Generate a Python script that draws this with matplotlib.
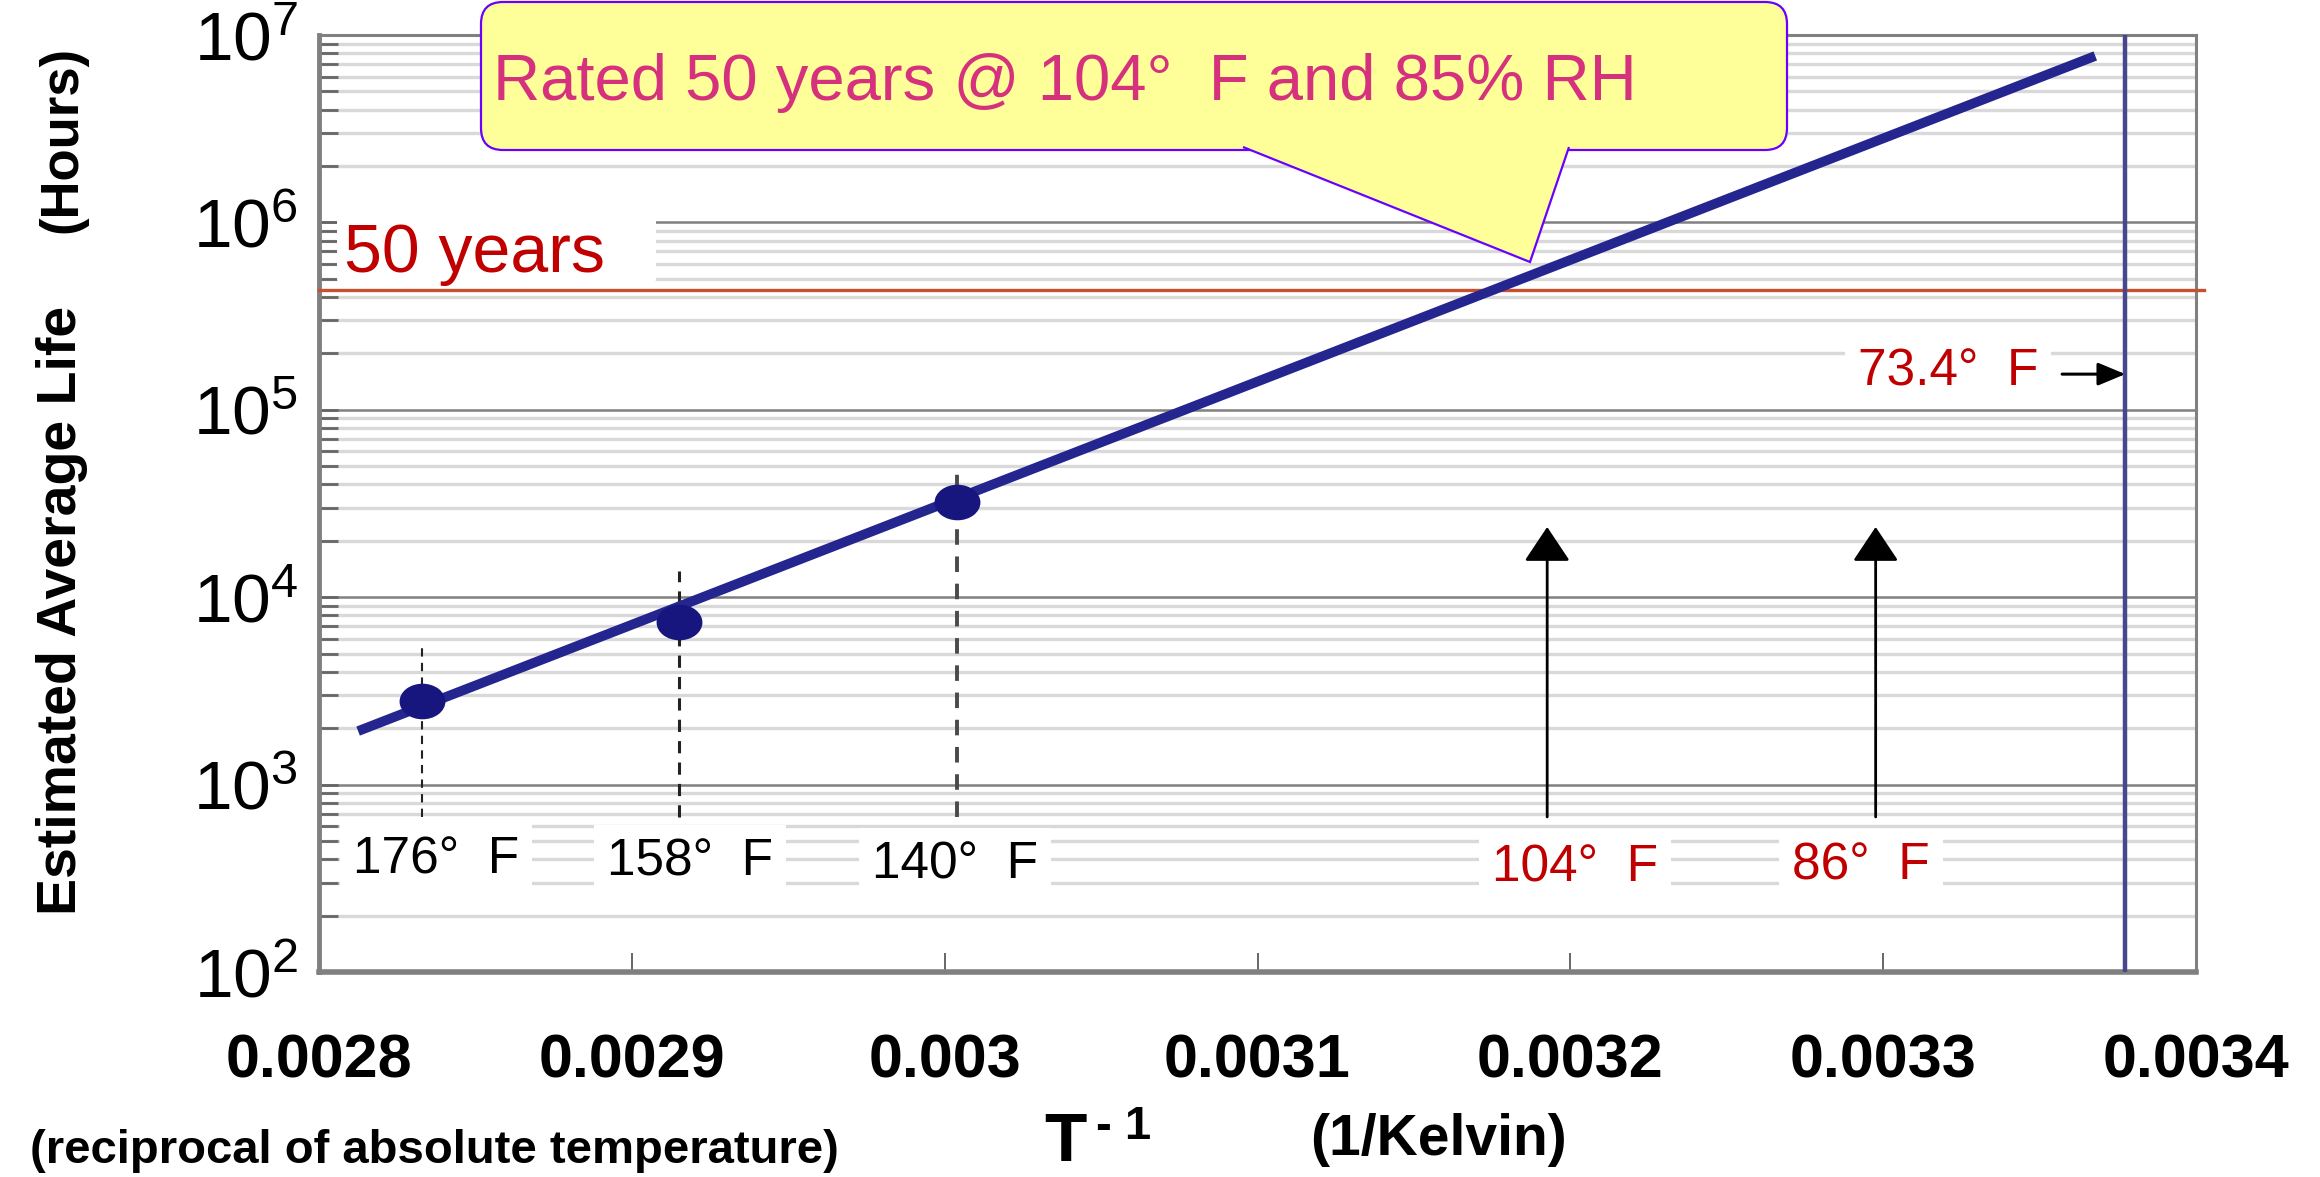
"""Estimated average life vs reciprocal absolute temperature."""

import matplotlib

matplotlib.use("Agg")

import matplotlib.pyplot as plt
import numpy as np
from matplotlib.patches import FancyBboxPatch, Polygon
from matplotlib.path import Path
from matplotlib.ticker import FixedLocator, LogLocator, NullFormatter
from matplotlib.transforms import Affine2D

# values
point_labels = ["176°  F", "158°  F", "140°  F"]
point_inv_temp = [0.002833, 0.002915, 0.003004]  # 1/K
point_life = [2790, 7380, 32200]  # hours
point_guide_top = [5700, 13800, 49500]

fit_inv_temp = [0.0028125, 0.0033678]
fit_life = [1930, 7.73e6]

target_labels = ["104°  F", "86°  F"]
target_inv_temp = [0.0031926, 0.0032976]
target_arrow_top = 23700
guide_bottom = 672

room_label = "73.4°  F"
room_inv_temp = 0.0033774

rated_label = "50 years"
rated_life = 438000  # 50 years in hours
callout_text = "Rated 50 years @ 104°  F and 85% RH"

x_ticks = [0.0028, 0.0029, 0.003, 0.0031, 0.0032, 0.0033, 0.0034]
x_tick_labels = ["0.0028", "0.0029", "0.003", "0.0031", "0.0032", "0.0033", "0.0034"]
y_ticks = [1e2, 1e3, 1e4, 1e5, 1e6, 1e7]
y_tick_labels = [r"$\mathregular{10^{%d}}$" % e for e in range(2, 8)]

plt.rcParams["font.family"] = ["Liberation Sans", "DejaVu Sans"]
plt.rcParams["mathtext.fontset"] = "custom"
plt.rcParams["mathtext.rm"] = "Liberation Sans"
plt.rcParams["mathtext.default"] = "regular"

DARK_RED = "#c00000"

W, H = 2320, 1177
fig = plt.figure(figsize=(W / 100, H / 100), dpi=100)
# pixel coordinates, origin top-left, like the reference picture
px = Affine2D().scale(1 / W, -1 / H).translate(0, 1) + fig.transFigure

ax = fig.add_axes([319 / W, 1 - 972 / H, (2196 - 319) / W, (972 - 35) / H])
ax.set_yscale("log")
ax.set_xlim(x_ticks[0], x_ticks[-1])
ax.set_ylim(y_ticks[0], y_ticks[-1])
ax.set_axisbelow(True)

ax.xaxis.set_major_locator(FixedLocator(x_ticks))
ax.set_xticklabels(x_tick_labels, fontsize=44, fontweight="bold")
ax.yaxis.set_major_locator(FixedLocator(y_ticks))
ax.set_yticklabels(y_tick_labels, fontsize=50)
ax.yaxis.set_minor_locator(LogLocator(base=10, subs=np.arange(2, 10)))
ax.yaxis.set_minor_formatter(NullFormatter())
ax.tick_params(axis="x", direction="in", length=14, width=1.4, color="#666666", pad=44)
ax.tick_params(axis="y", which="both", direction="in", length=14, width=2.0, color="#666666", pad=15)

ax.grid(which="minor", axis="y", color="#d9d9d9", linewidth=2.4)
ax.grid(which="major", axis="y", color="#808080", linewidth=1.8)
ax.grid(which="both", axis="x", visible=False)

for side, width in (("left", 3.5), ("bottom", 4.0), ("top", 2.2), ("right", 2.2)):
    ax.spines[side].set_color("#808080")
    ax.spines[side].set_linewidth(width)

# white box behind the "50 years" note
ax.add_patch(FancyBboxPatch((337, 200), 319, 86, boxstyle="round,pad=0,rounding_size=8",
                            transform=px, facecolor="white", edgecolor="none", zorder=1))
ax.text(344, 272, rated_label, transform=px, fontsize=49, color=DARK_RED, va="baseline", zorder=4)

# 50-year line and the room-temperature line
ax.axhline(rated_life, xmax=1.004, color="#c9502f", linewidth=2.4, clip_on=False, zorder=3)
ax.axvline(room_inv_temp, color="#47478c", linewidth=3.2, zorder=3)

# dashed guides under the measured points
guide_widths = [1.5, 2.2, 2.8]
guide_colors = ["#222222", "#222222", "#4a4a4a"]
for x, top, lw, c in zip(point_inv_temp, point_guide_top, guide_widths, guide_colors):
    ax.plot([x, x], [guide_bottom, top], color=c, linewidth=lw, linestyle=(0, (4, 3)), zorder=2)

# fitted life line and measured points
ax.plot(fit_inv_temp, fit_life, color="#25258f", linewidth=7, solid_capstyle="butt", zorder=5)
circle = Path.unit_circle()
ellipse = Path(circle.vertices * np.array([1.3, 1.0]), circle.codes)
ax.plot(point_inv_temp, point_life, linestyle="none", marker=ellipse, markersize=32,
        color="#16167e", zorder=6)

# arrows up from the use temperatures
for x in target_inv_temp:
    ax.annotate("", xy=(x, target_arrow_top), xytext=(x, guide_bottom),
                arrowprops=dict(arrowstyle="-|>,head_length=1.08,head_width=0.72", mutation_scale=20,
                                color="black", linewidth=2.0, shrinkA=0, shrinkB=0), zorder=4)

# temperature labels
label_box = dict(boxstyle="square,pad=0.25", facecolor="white", edgecolor="none")
point_label_px = [(436, 860), (690, 862), (955, 865)]
for text, (lx, ly) in zip(point_labels, point_label_px):
    ax.text(lx, ly, text, transform=px, fontsize=37, color="black", ha="center", va="center",
            bbox=label_box, zorder=3)
target_label_px = [(1575, 868), (1861, 866)]
for text, (lx, ly) in zip(target_labels, target_label_px):
    ax.text(lx, ly, text, transform=px, fontsize=37, color=DARK_RED, ha="center", va="center",
            bbox=label_box, zorder=3)
ax.text(1948, 372, room_label, transform=px, fontsize=37, color=DARK_RED, ha="center", va="center",
        bbox=label_box, zorder=3)
ax.annotate("", xy=(room_inv_temp, 1.55e5), xytext=(0.0033572, 1.55e5),
            arrowprops=dict(arrowstyle="-|>,head_length=1.2,head_width=0.5", mutation_scale=14,
                            color="black", linewidth=2.2, shrinkA=0, shrinkB=0), zorder=4)

# callout bubble
callout_face, callout_edge = "#ffff99", "#6b00ff"
fig.add_artist(FancyBboxPatch((481, 2), 1306, 148, boxstyle="round,pad=0,rounding_size=22",
                              transform=px, facecolor=callout_face, edgecolor=callout_edge,
                              linewidth=1.6, zorder=5))
fig.add_artist(Polygon([(1243, 147), (1530, 262), (1569, 147)], closed=False, transform=px,
                       facecolor=callout_face, edgecolor=callout_edge, linewidth=1.6, zorder=6))
fig.text(493, 100, callout_text, transform=px, fontsize=47, color="#d5317d", va="baseline", zorder=7)

# axis titles
fig.text(62, 610, "Estimated Average Life", transform=px, rotation=90, fontsize=40,
         fontweight="bold", ha="center", va="center")
fig.text(62, 139, "(Hours)", transform=px, rotation=90, fontsize=38,
         fontweight="bold", ha="center", va="center")
fig.text(30, 1151, "(reciprocal of absolute temperature)", transform=px, fontsize=34,
         fontweight="bold", va="center")
fig.text(1044, 1143, "T", transform=px, fontsize=50, fontweight="bold", va="center")
fig.text(1096, 1127, "- 1", transform=px, fontsize=34, fontweight="bold", va="center")
fig.text(1310, 1140, "(1/Kelvin)", transform=px, fontsize=41, fontweight="bold", va="center")

fig.savefig("out.png", dpi=100)
